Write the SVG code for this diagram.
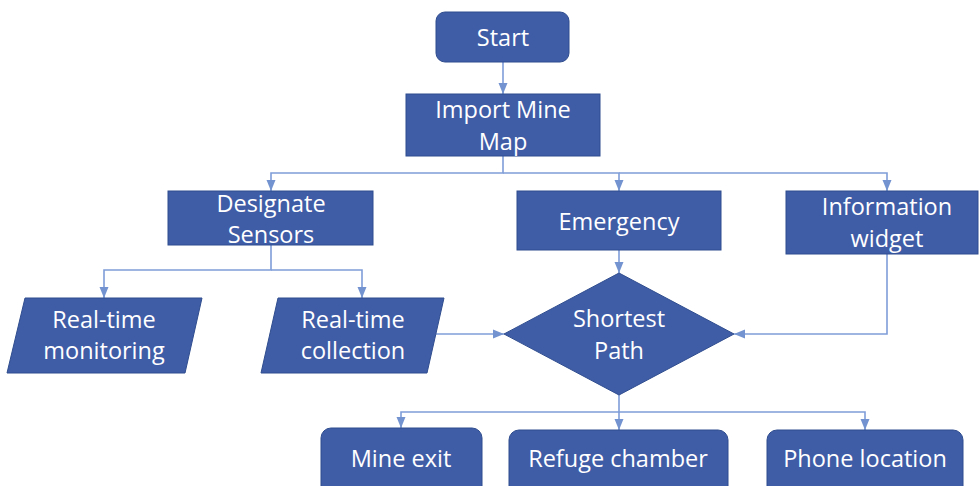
<svg xmlns="http://www.w3.org/2000/svg" width="979" height="486" viewBox="0 0 979 486">
<style>
.n{fill:#3F5CA7;stroke:#2F4D8E;stroke-width:1}
.t{font-family:"Open Sans","Liberation Sans",sans-serif;font-size:23.5px;fill:#FFFFFF;text-anchor:middle}
.c{fill:none;stroke:#7F9DD8;stroke-width:1.6}
</style>
<defs>
<marker id="a" markerUnits="userSpaceOnUse" markerWidth="12" markerHeight="12" viewBox="0 0 12 12" refX="11" refY="6" orient="auto">
<path d="M0,1.5 L11,6 L0,10.5 Z" fill="#7393D0"/>
</marker>
</defs>
<rect width="979" height="486" fill="#FFFFFF"/>
<g id="connectors">
<path class="c" d="M503,62 V94" marker-end="url(#a)"/>
<path class="c" d="M503,156 V173 H271 V191" marker-end="url(#a)"/>
<path class="c" d="M503,173 H619 V191" marker-end="url(#a)"/>
<path class="c" d="M619,173 H887 V191" marker-end="url(#a)"/>
<path class="c" d="M271,245 V270 H104 V298" marker-end="url(#a)"/>
<path class="c" d="M271,270 H362 V298" marker-end="url(#a)"/>
<path class="c" d="M436,334 H504" marker-end="url(#a)"/>
<path class="c" d="M619,250 V273" marker-end="url(#a)"/>
<path class="c" d="M887,254 V334 H734" marker-end="url(#a)"/>
<path class="c" d="M619,395 V412 H401 V428" marker-end="url(#a)"/>
<path class="c" d="M619,412 V430" marker-end="url(#a)"/>
<path class="c" d="M619,412 H865 V430" marker-end="url(#a)"/>
</g>
<g id="start">
<rect class="n" x="436" y="12" width="133" height="50" rx="9"/>
<text class="t" x="503" y="46">Start</text>
</g>
<g id="import">
<rect class="n" x="406" y="94" width="194" height="62"/>
<text class="t" x="503" y="118">Import Mine</text>
<text class="t" x="503" y="150">Map</text>
</g>
<g id="designate">
<rect class="n" x="168" y="191" width="205" height="54"/>
<text class="t" x="271" y="212">Designate</text>
<text class="t" x="271" y="243">Sensors</text>
</g>
<g id="emergency">
<rect class="n" x="517" y="191" width="204" height="59"/>
<text class="t" x="619" y="230">Emergency</text>
</g>
<g id="info">
<rect class="n" x="786" y="191" width="192" height="63"/>
<text class="t" x="887" y="215">Information</text>
<text class="t" x="887" y="247">widget</text>
</g>
<g id="monitoring">
<polygon class="n" points="25,298 202,298 185,373 7,373"/>
<text class="t" x="104" y="328">Real-time</text>
<text class="t" x="104" y="359">monitoring</text>
</g>
<g id="collection">
<polygon class="n" points="278,298 444,298 427,373 261,373"/>
<text class="t" x="353" y="328">Real-time</text>
<text class="t" x="353" y="359">collection</text>
</g>
<g id="shortest">
<polygon class="n" points="619,273 734,334 619,395 504,334"/>
<text class="t" x="619" y="327">Shortest</text>
<text class="t" x="619" y="359">Path</text>
</g>
<g id="mineexit">
<rect class="n" x="321" y="428" width="161" height="70" rx="10"/>
<text class="t" x="401" y="467">Mine exit</text>
</g>
<g id="refuge">
<rect class="n" x="509" y="430" width="219" height="70" rx="10"/>
<text class="t" x="618" y="467">Refuge chamber</text>
</g>
<g id="phone">
<rect class="n" x="767" y="430" width="196" height="70" rx="10"/>
<text class="t" x="865" y="467">Phone location</text>
</g>
</svg>
